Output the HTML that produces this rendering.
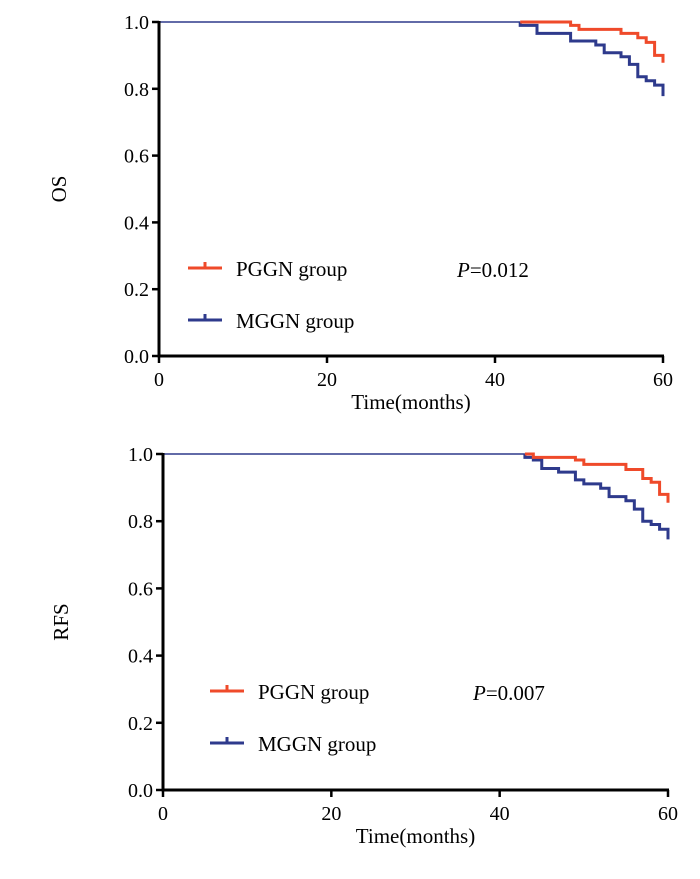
<!DOCTYPE html>
<html><head><meta charset="utf-8"><style>
body{margin:0;background:#fff;}
svg text{font-family:"Liberation Serif",serif;fill:#000;}
</style></head><body>
<svg id="c" width="700" height="874"></svg>
<script>
const xTicks=[0,20,40,60];
const yTicks=["0.0","0.2","0.4","0.6","0.8","1.0"];
const osRedT=[0,49,50,55,57,58,59,60];
const osRedS=[1,0.99,0.978,0.966,0.953,0.939,0.90,0.878];
const osBlueT=[0,43,45,49,52,53,55,56,57,58,59,60];
const osBlueS=[1,0.99,0.966,0.943,0.931,0.908,0.896,0.873,0.836,0.824,0.811,0.778];
const rfsRedT=[0,44,49,50,55,57,58,59,60];
const rfsRedS=[1,0.99,0.982,0.969,0.954,0.927,0.916,0.88,0.855];
const rfsBlueT=[0,43,44,45,47,49,50,52,53,55,56,57,58,59,60];
const rfsBlueS=[1,0.99,0.982,0.957,0.946,0.923,0.911,0.898,0.873,0.861,0.836,0.80,0.79,0.776,0.746];
const NS="http://www.w3.org/2000/svg",svg=document.getElementById('c');
function mk(t,a,txt){const e=document.createElementNS(NS,t);for(const k in a)e.setAttribute(k,a[k]);if(txt!==undefined)e.textContent=txt;svg.appendChild(e);return e;}
function chart(o){
 const X=t=>o.x0+(o.x1-o.x0)*t/60, Y=s=>o.y0+(o.y1-o.y0)*s;
 let e=mk('line',{x1:X(0),y1:Y(1),x2:X(43),y2:Y(1),stroke:'#2e3a8c','stroke-width':1.5});
 
 
 [[o.bT,o.bS,'#2e3a8c','mggn-curve'],[o.rT,o.rS,'#ef4a2a','pggn-curve']].forEach(([T,S,c,n])=>{
  let d='M'+X(43)+','+Y(1)+' H'+X(T[1])+' V'+Y(S[1]);
  for(let i=2;i<T.length;i++){d+=' H'+X(T[i])+' V'+Y(S[i]);}
  const p=mk('path',{d:d,fill:'none',stroke:c,'stroke-width':3});
  
  
 });
 let a=mk('path',{d:`M${o.x0},${o.y1-1} V${o.y0} H${o.x1+1}`,fill:'none',stroke:'#000','stroke-width':3});
 
 
 yTicks.forEach(v=>{const y=Y(+v);mk('line',{x1:o.x0-7,x2:o.x0,y1:y,y2:y,stroke:'#000','stroke-width':2.5});
  const t=mk('text',{x:o.x0-10,y:y+7,'text-anchor':'end','font-size':20},v);
  
  });
 xTicks.forEach(v=>{const x=X(v);mk('line',{x1:x,x2:x,y1:o.y0,y2:o.y0+7,stroke:'#000','stroke-width':2.5});
  const t=mk('text',{x:x,y:o.y0+30,'text-anchor':'middle','font-size':20},v);
  
  });
 let t=mk('text',{x:(o.x0+o.x1)/2,y:o.y0+33+20,'text-anchor':'middle','font-size':21},'Time(months)');
 
 
 t=mk('text',{x:0,y:0,'text-anchor':'middle','font-size':21,transform:`translate(${o.yl},${(o.y0+o.y1)/2}) rotate(-90)`},o.title);
 
 
 [[o.lx,o.ly,'#ef4a2a','PGGN group'],[o.lx,o.ly+52,'#2e3a8c','MGGN group']].forEach(([x,y,c,s])=>{
  mk('line',{x1:x,x2:x+34,y1:y,y2:y,stroke:c,'stroke-width':3});
  mk('line',{x1:x+17,x2:x+17,y1:y-6,y2:y,stroke:c,'stroke-width':3});
  const l=mk('text',{x:x+48,y:y+8,'font-size':21},s);
  
  
 });
 const p=mk('text',{x:o.px,y:o.ly+9,'font-size':21});
 p.innerHTML='<tspan font-style="italic">P</tspan>=' + o.pv;
 
 
}
chart({p:'os',x0:159,x1:663,y0:356,y1:22,rT:osRedT,rS:osRedS,bT:osBlueT,bS:osBlueS,title:'OS',yl:66,lx:188,ly:268,px:457,pv:'0.012'});
chart({p:'rfs',x0:163,x1:668,y0:790,y1:454,rT:rfsRedT,rS:rfsRedS,bT:rfsBlueT,bS:rfsBlueS,title:'RFS',yl:68,lx:210,ly:691,px:473,pv:'0.007'});
</script>
</body></html>
